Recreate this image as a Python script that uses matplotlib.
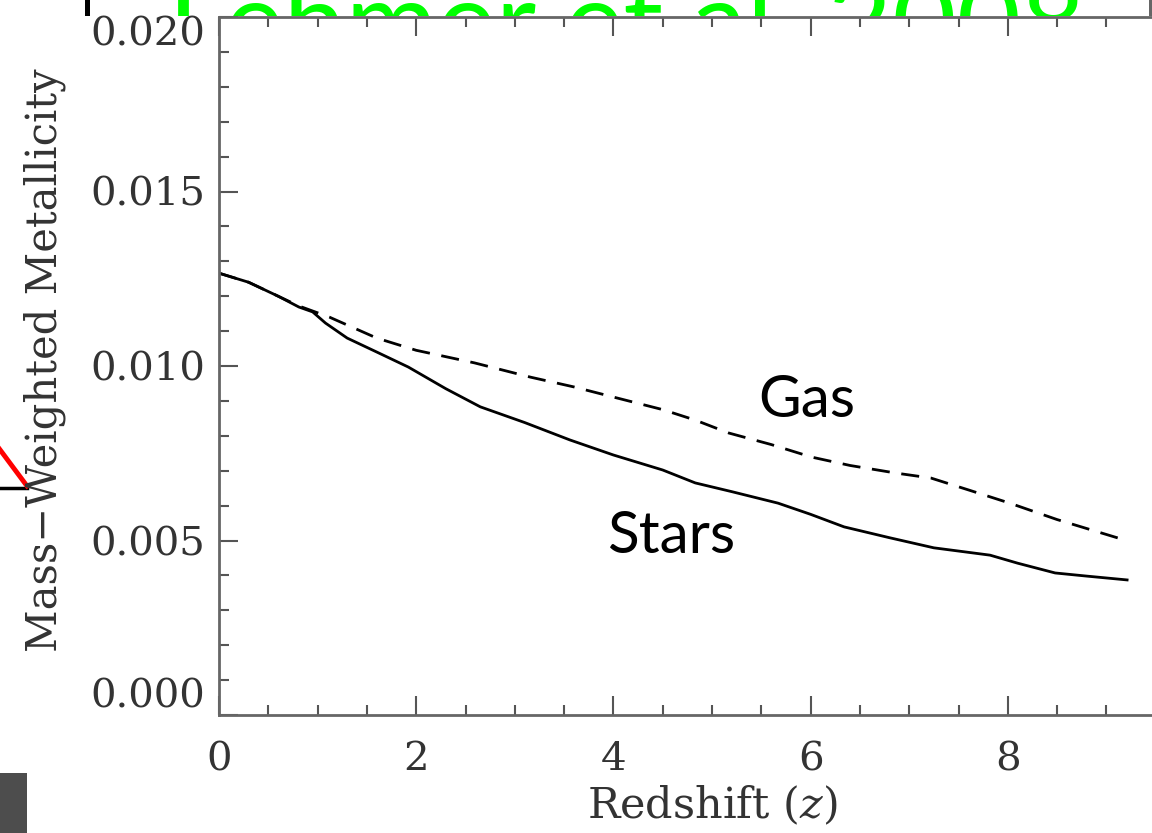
import matplotlib
matplotlib.use("Agg")
import matplotlib.pyplot as plt
from matplotlib.patches import Rectangle
from matplotlib.lines import Line2D
from matplotlib.ticker import MultipleLocator

# ---------------- data ----------------
z_stars = [0.0, 0.3, 0.6, 0.81, 0.95, 1.08, 1.3, 1.6, 1.92, 2.3, 2.65, 3.1, 3.56,
           4.0, 4.5, 4.83, 5.2, 5.67, 6.0, 6.34, 6.8, 7.25, 7.82, 8.1, 8.48, 8.8, 9.21]
stars = [0.01266, 0.0124, 0.0120, 0.01169, 0.01155, 0.01123, 0.0108, 0.0104, 0.00997,
         0.00935, 0.00883, 0.00838, 0.00788, 0.00745, 0.00702, 0.00665, 0.00640,
         0.00607, 0.00575, 0.00539, 0.00508, 0.00479, 0.00458, 0.00435, 0.00407,
         0.00398, 0.00387]

z_gas = [0.0, 0.3, 0.6, 0.81, 1.12, 1.6, 2.0, 2.59, 3.16, 3.6, 4.0, 4.5, 4.83, 5.17,
         5.6, 6.01, 6.4, 6.87, 7.22, 7.6, 8.02, 8.5, 9.19]
gas = [0.01266, 0.0124, 0.0120, 0.01172, 0.01140, 0.0108, 0.01045, 0.01009, 0.00968,
       0.0094, 0.00911, 0.00875, 0.00845, 0.00808, 0.00775, 0.00739, 0.00715, 0.00693,
       0.00679, 0.00645, 0.00607, 0.00560, 0.00501]

xticks = [0, 2, 4, 6, 8]
xtick_labels = ["0", "2", "4", "6", "8"]
yticks = [0.0, 0.005, 0.010, 0.015, 0.020]
ytick_labels = ["0.000", "0.005", "0.010", "0.015", "0.020"]

title_text = "Lehmer et al. 2008"
xlabel = "Redshift ($z$)"
ylabel = "Mass\u2212Weighted Metallicity"
label_gas = "Gas"
label_stars = "Stars"

# ---------------- figure ----------------
plt.rcParams["mathtext.fontset"] = "dejavuserif"
W, H = 1152, 833
fig = plt.figure(figsize=(W / 100, H / 100), dpi=100)
fig.patch.set_facecolor("white")


def fx(px):
    return px / W


def fy(py):
    return 1 - py / H


# slide decorations behind the chart image
fig.text(fx(168), fy(60), title_text, color="#00ff00", fontsize=80,
         family=["Lato", "DejaVu Sans"], ha="left", va="baseline", zorder=-6)
fig.patches.append(Rectangle((fx(85), fy(16)), 5 / W, 16 / H, transform=fig.transFigure,
                             facecolor="black", edgecolor="none", zorder=-6))
fig.patches.append(Rectangle((fx(1149), fy(16)), 3 / W, 16 / H, transform=fig.transFigure,
                             facecolor="#666666", edgecolor="none", zorder=-6))
# white chart image covering the text
fig.patches.append(Rectangle((fx(27), 0), 1 - fx(27), fy(16), transform=fig.transFigure,
                             facecolor="white", edgecolor="none", zorder=-5))
# left edge decorations
fig.lines.append(Line2D([fx(0), fx(27)], [fy(488), fy(488)], transform=fig.transFigure,
                        color="black", lw=2.5, zorder=-4))
fig.lines.append(Line2D([fx(-5), fx(27)], [fy(443), fy(486)], transform=fig.transFigure,
                        color="#ff0000", lw=3.5, zorder=-4))
fig.patches.append(Rectangle((0, 0), fx(27), fy(773), transform=fig.transFigure,
                             facecolor="#4d4d4d", edgecolor="none", zorder=-4))

# ---------------- axes ----------------
ax = fig.add_axes([fx(219), fy(715), (1205 - 219) / W, (715 - 17) / H], zorder=0)
ax.set_facecolor("white")

ax.plot(z_stars, stars, color="black", lw=2.0, solid_joinstyle="round")
ax.plot(z_gas, gas, color="black", lw=2.0, linestyle=(0, (6.5, 4.2)))

ax.set_xlim(0, 10)
ax.set_ylim(0, 0.020)
ax.set_xticks(xticks)
ax.set_xticklabels(xtick_labels)
ax.set_yticks(yticks)
ax.set_yticklabels(ytick_labels)
ax.xaxis.set_minor_locator(MultipleLocator(0.5))
ax.yaxis.set_minor_locator(MultipleLocator(0.001))

for lab in ax.get_xticklabels() + ax.get_yticklabels():
    lab.set_family("DejaVu Serif")
ax.tick_params(which="both", direction="in", top=True, right=True,
               color="#555555", width=1.5, labelsize=29, labelcolor="#333333")
ax.tick_params(which="major", length=14)
ax.tick_params(which="minor", length=7)
ax.tick_params(axis="y", pad=10)
ax.tick_params(axis="x", pad=19)

for s in ax.spines.values():
    s.set_color("#666666")
    s.set_linewidth(2.0)

ax.set_xlabel(xlabel, fontsize=31, family="DejaVu Serif", color="#333333")
ax.set_ylabel(ylabel, fontsize=30, family="DejaVu Serif", color="#333333")
ax.xaxis.set_label_coords(0.5, (715 - 784) / 698)
ax.yaxis.set_label_coords((45 - 219) / 986, 0.5 + (366 - 360) / 698)
ax.yaxis.label.set_va("center")

ax.text(5.47, 0.00854, label_gas, fontsize=42, family=["Lato", "DejaVu Sans"],
        ha="left", va="baseline", color="black")
ax.text(3.94, 0.00464, label_stars, fontsize=42, family=["Lato", "DejaVu Sans"],
        ha="left", va="baseline", color="black")

fig.canvas.draw()
ylabs = ax.get_yticklabels()
ylabs[0].set_va("bottom")
ylabs[-1].set_va("top")

fig.savefig("out.png", dpi=100, facecolor="white")
